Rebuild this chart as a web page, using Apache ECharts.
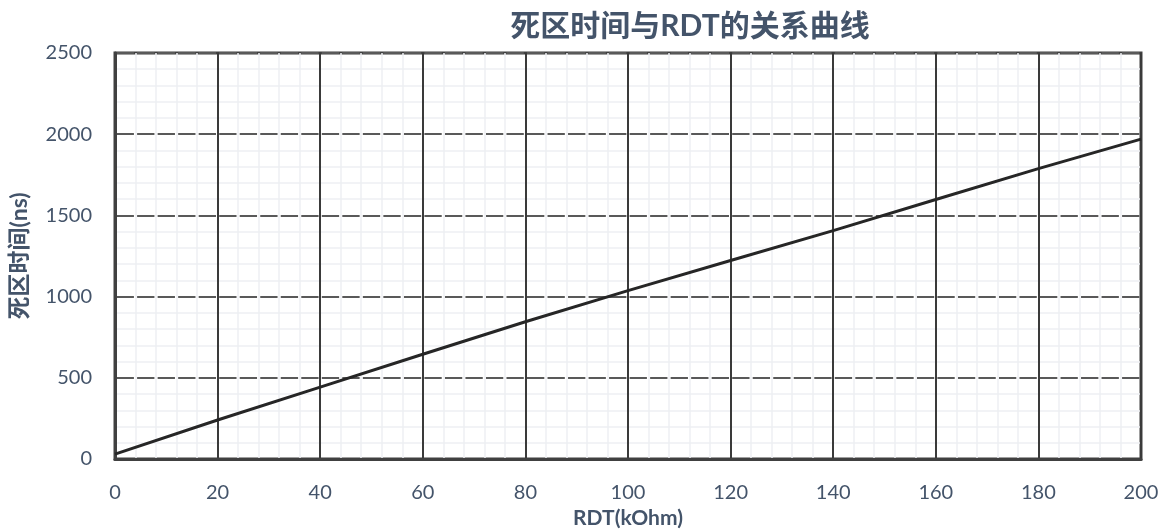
<!DOCTYPE html>
<html>
<head>
<meta charset="utf-8">
<script src="https://cdn.jsdelivr.net/npm/echarts@6/dist/echarts.min.js"></script>
<style>html,body{margin:0;padding:0;background:#fff}#c{width:1166px;height:530px}</style>
</head>
<body>
<div id="c"></div>
<script>
const titleText = '死区时间与RDT的关系曲线';
const xName = 'RDT(kOhm)';
const yName = '死区时间(ns)';
const rdt = [0, 20, 40, 60, 80, 100, 120, 140, 160, 180, 200];
const deadTime = [30, 240, 443, 645, 845, 1037, 1222, 1406, 1598, 1788, 1970];

const FONT = "Lato, 'Noto Sans CJK SC', sans-serif";
const TXT = '#44546A';
const minorStep = 1026 / 50;
const gap = 3.2;
const chart = echarts.init(document.getElementById('c'));
chart.setOption({
  animation: false,
  title: {
    text: titleText, left: 685, top: 6, textAlign: 'center',
    textStyle: { fontFamily: FONT, fontSize: 30, fontWeight: 'bold', color: TXT }
  },
  grid: {
    left: 115, right: 25, top: 53, bottom: 71,
    containLabel: false, outerBoundsMode: 'none',
    show: true, borderColor: '#404040', borderWidth: 3, backgroundColor: 'transparent'
  },
  xAxis: {
    type: 'value', min: 0, max: 200, interval: 20,
    name: xName, nameLocation: 'middle', nameGap: 47,
    nameTextStyle: { fontFamily: FONT, fontSize: 21, fontWeight: 'bold', color: TXT },
    axisLine: { show: true, lineStyle: { color: '#404040', width: 3 } },
    axisTick: { show: false },
    axisLabel: { margin: 24, fontFamily: FONT, fontSize: 20, color: TXT },
    splitLine: { show: true, lineStyle: { color: '#3a3a3a', width: 2, type: 'solid' } },
    minorTick: { show: false, splitNumber: 5 },
    minorSplitLine: { show: true, lineStyle: { color: '#eef0f4', width: 1.5 } }
  },
  yAxis: {
    type: 'value', min: 0, max: 2500, interval: 500,
    name: yName, nameLocation: 'middle', nameGap: 84, nameRotate: 90,
    nameTextStyle: { fontFamily: FONT, fontSize: 23, fontWeight: 'bold', color: TXT },
    axisLine: { show: true, lineStyle: { color: '#404040', width: 3 } },
    axisTick: { show: false },
    axisLabel: { margin: 23, fontFamily: FONT, fontSize: 20, color: TXT, formatter: v => String(v) },
    splitLine: { show: true, lineStyle: { color: '#595959', width: 2,
      type: [minorStep - gap, gap], dashOffset: minorStep - gap / 2 } },
    minorTick: { show: false, splitNumber: 5 },
    minorSplitLine: { show: true, lineStyle: { color: '#eef0f4', width: 1.5 } }
  },
  series: [{
    type: 'line',
    data: rdt.map((x, i) => [x, deadTime[i]]),
    showSymbol: false,
    lineStyle: { color: '#262626', width: 3 },
    z: 5
  }]
});
</script>
</body>
</html>
